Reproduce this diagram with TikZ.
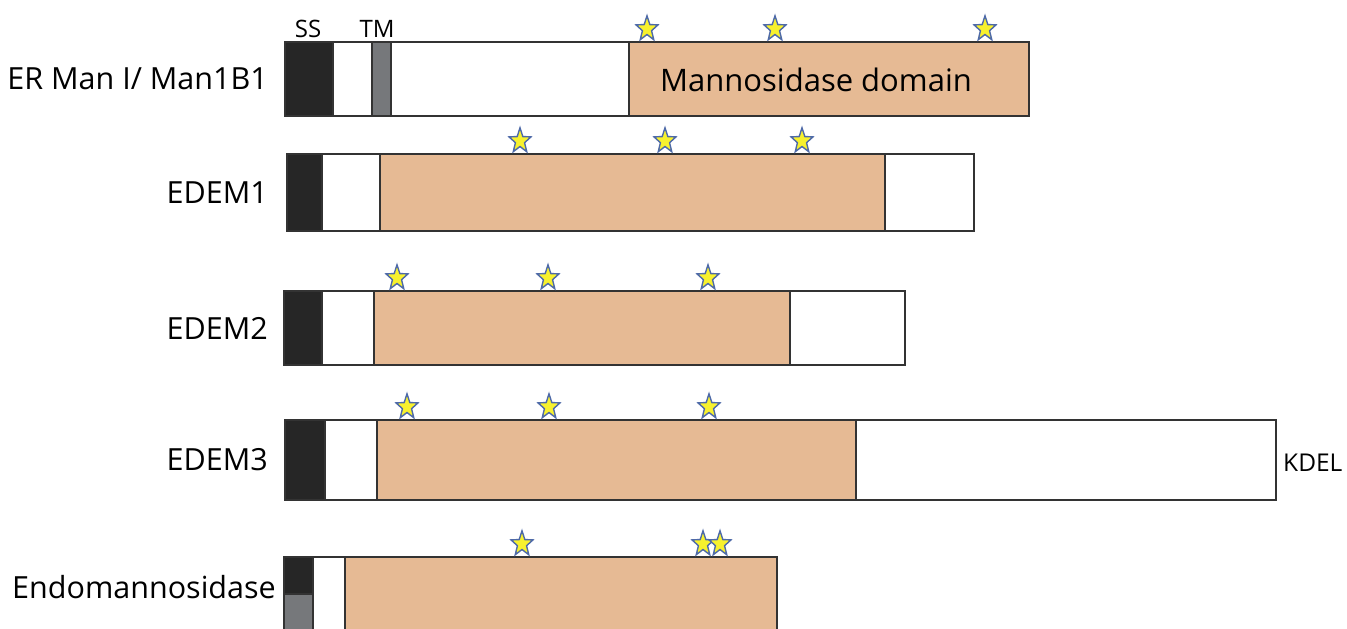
\documentclass[tikz,border=0pt]{standalone}
\usepackage{fontspec}
\setmainfont{Open Sans}
\usetikzlibrary{shapes.geometric}
\definecolor{ssblack}{HTML}{262626}
\definecolor{tmgray}{HTML}{76787B}
\definecolor{domainfill}{HTML}{E6BA94}
\definecolor{edgecol}{HTML}{333333}
\definecolor{staryellow}{HTML}{F7F12E}
\definecolor{starblue}{HTML}{4E6AA8}
\begin{document}
\begin{tikzpicture}[x=1pt,y=-1pt,
  seg/.style={draw=edgecol, line width=1.3pt},
  protlabel/.style={font=\fontsize{30.5}{33}\selectfont, anchor=east, inner sep=0pt},
  smalllabel/.style={font=\fontsize{24}{26}\selectfont, anchor=base, inner sep=0pt},
  starmark/.style={star, star points=5, star point ratio=2.4, minimum size=23pt,
    inner sep=0pt, fill=staryellow, draw=starblue, line width=1.4pt,
    yscale=1.15, transform shape}]
\useasboundingbox (0,0) rectangle (1347,629);
\clip (0,0) rectangle (1347,629);

% ER Man I / Man1B1
\path[seg, fill=white] (285,42) rectangle (1029,116);
\path[seg, fill=ssblack] (285,42) rectangle (333,116);
\path[seg, fill=tmgray] (372,42) rectangle (391,116);
\path[seg, fill=domainfill] (629,42) rectangle (1029,116);
\node[protlabel] (l1) at (268,79) {ER Man I/ Man1B1};
\node[smalllabel] (ss) at (308,37) {SS};
\node[smalllabel] (tm) at (377,37) {TM};
\node[font=\fontsize{31}{33}\selectfont, inner sep=0pt] (dom) at (816,80) {Mannosidase domain};
\node[starmark] (s11) at (647,29) {};
\node[starmark] (s12) at (775,29) {};
\node[starmark] (s13) at (985,29) {};

% EDEM1
\path[seg, fill=white] (287,154) rectangle (974,231);
\path[seg, fill=ssblack] (287,154) rectangle (322,231);
\path[seg, fill=domainfill] (380,154) rectangle (885,231);
\node[protlabel] (l2) at (268,193) {EDEM1};
\node[starmark] (s21) at (520,141) {};
\node[starmark] (s22) at (665,141) {};
\node[starmark] (s23) at (802,141) {};

% EDEM2
\path[seg, fill=white] (284,291) rectangle (905,365);
\path[seg, fill=ssblack] (284,291) rectangle (322,365);
\path[seg, fill=domainfill] (374,291) rectangle (790,365);
\node[protlabel] (l3) at (268,328) {EDEM2};
\node[starmark] (s31) at (397,278) {};
\node[starmark] (s32) at (548,278) {};
\node[starmark] (s33) at (708,278) {};

% EDEM3
\path[seg, fill=white] (285,420) rectangle (1276,500);
\path[seg, fill=ssblack] (285,420) rectangle (325,500);
\path[seg, fill=domainfill] (377,420) rectangle (856,500);
\node[protlabel] (l4) at (268,460) {EDEM3};
\node[font=\fontsize{24.5}{26}\selectfont, anchor=west, inner sep=0pt] (kdel) at (1283,463) {KDEL};
\node[starmark] (s41) at (407,407) {};
\node[starmark] (s42) at (549,407) {};
\node[starmark] (s43) at (709,407) {};

% Endomannosidase
\path[seg, fill=white] (284,557) rectangle (777,650);
\path[seg, fill=ssblack] (284,557) rectangle (313,594);
\path[seg, fill=tmgray] (284,594) rectangle (313,650);
\path[seg, fill=domainfill] (345,557) rectangle (777,650);
\node[protlabel] (l5) at (276,587) {Endomannosidase};
\node[starmark] (s51) at (522,544) {};
\node[starmark] (s52) at (703,544) {};
\node[starmark] (s53) at (720,544) {};
\end{tikzpicture}
\end{document}
